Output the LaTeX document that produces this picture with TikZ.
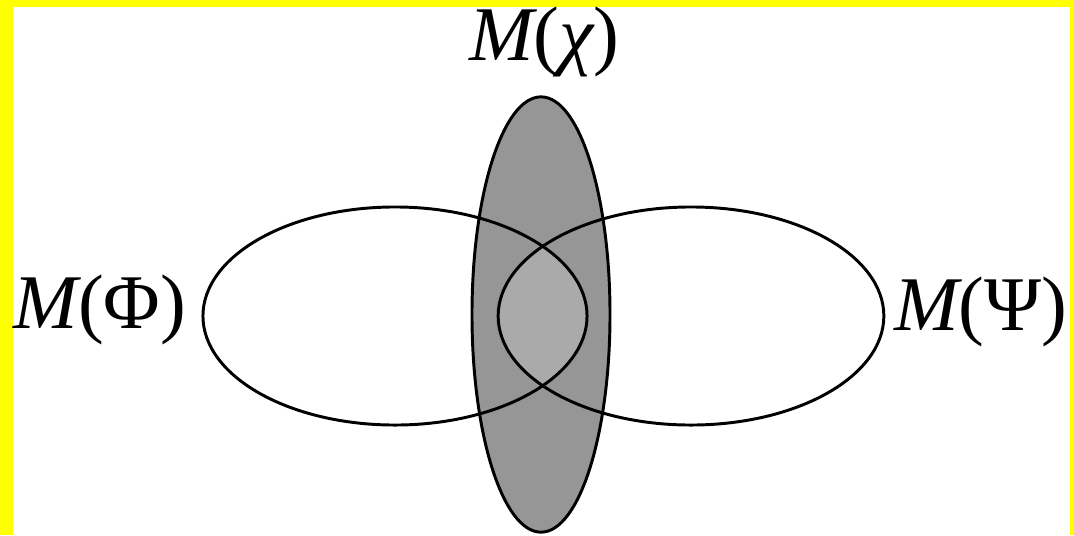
\documentclass[tikz,border=0pt]{standalone}
\usepackage{fontspec}
\setmainfont{Liberation Serif}
\definecolor{framey}{HTML}{FFFF00}
\definecolor{chidark}{HTML}{969696}
\definecolor{lensgray}{HTML}{AAAAAA}
\tikzset{
  setline/.style={draw=black, line width=2.1pt},
  setlabel/.style={anchor=base, inner sep=0pt, font=\fontsize{55}{62}\selectfont}
}
\begin{document}
\begin{tikzpicture}[x=0.025cm, y=-0.025cm]

% frame
\fill[framey] (0,0) rectangle (1074,535);
\fill[white] (13,7) rectangle (1070,535);
\useasboundingbox (0,0) rectangle (1074,535);

% M(chi) filled, lens lighter
\fill[chidark] (541,314.5) ellipse [x radius=1.725cm, y radius=5.44cm];
\begin{scope}
  \clip (395,316) ellipse [x radius=4.8cm, y radius=2.725cm];
  \fill[lensgray] (691,316) ellipse [x radius=4.82cm, y radius=2.725cm];
\end{scope}

% outlines
\draw[setline] (541,314.5) ellipse [x radius=1.725cm, y radius=5.44cm];
\draw[setline] (395,316) ellipse [x radius=4.8cm, y radius=2.725cm];
\draw[setline] (691,316) ellipse [x radius=4.82cm, y radius=2.725cm];

% labels
\node[setlabel] (phi) at (100,328) {\itshape M\upshape(Φ)};
\node[setlabel] (psi) at (981,330) {\itshape M\upshape(Ψ)};
\node[setlabel] (chi) at (544,60) {\itshape M\upshape(\itshape χ\upshape)};

\end{tikzpicture}
\end{document}
